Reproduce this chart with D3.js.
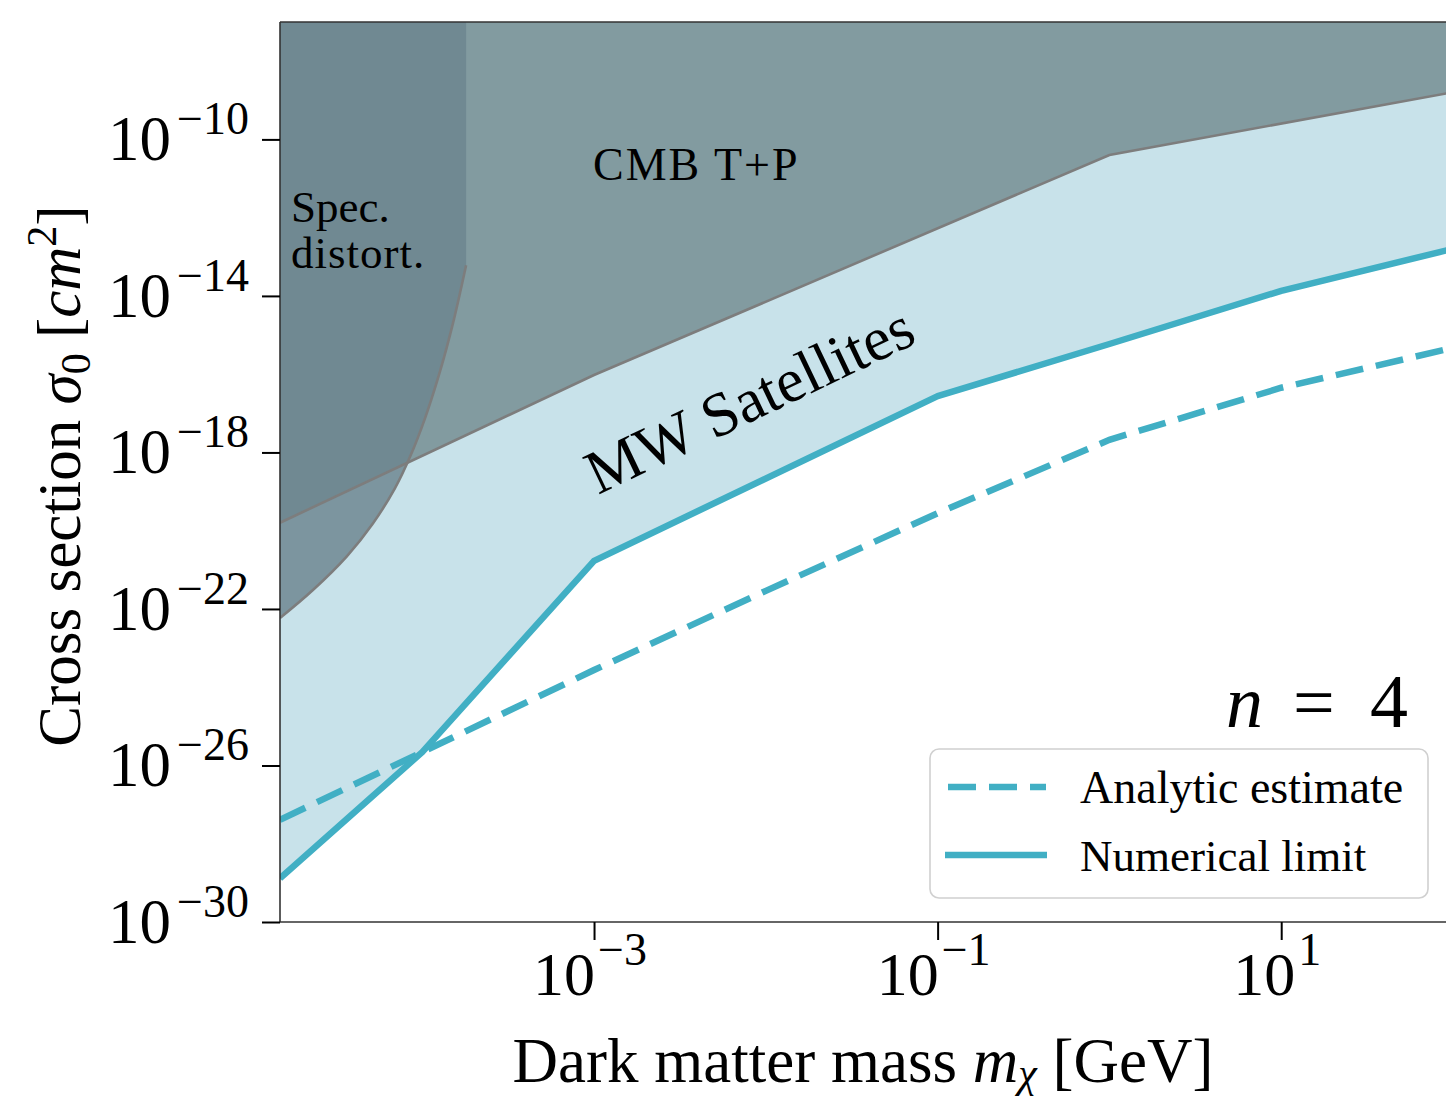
<!DOCTYPE html>
<html><head><meta charset="utf-8">
<script src="https://cdn.jsdelivr.net/npm/d3@7"></script>
<style>
body{margin:0;background:#fff}
svg{display:block}
text{font-family:"Liberation Serif","Times New Roman",serif;fill:#000}
</style>
</head><body>
<svg id="chart" width="1446" height="1096"></svg>
<script>
// ---- data (mass in GeV, cross section in cm^2) ----
const numericalMass  = [1.486e-5, 1e-4, 1e-3, 1e-1, 1, 10, 100];
const numericalSigma = [1.3e-29, 2.2e-26, 1.7e-21, 2.75e-17, 5.9e-16, 1.35e-14, 1.6e-13];

const analyticMass  = [1.486e-5, 1e-4, 1e-3, 1e-2, 1e-1, 1, 10, 100];
const analyticSigma = [4.1e-28, 2.2e-26, 2.75e-24, 2.9e-22, 2.8e-20, 2.1e-18, 4.5e-17, 4.7e-16];

const cmbMass  = [1.486e-5, 1e-3, 1, 100];
const cmbSigma = [1.6e-20, 9.5e-17, 4.0e-11, 1.6e-9];

const specMass  = [1.486e-5, 2.31e-5, 3.65e-5, 5.16e-5, 6.93e-5, 8.49e-5, 1.04e-4, 1.27e-4, 1.51e-4, 1.80e-4];
const specSigma = [5.87e-23, 3.05e-22, 2.25e-21, 1.53e-20, 1.21e-19, 7.74e-19, 7.67e-18, 1.19e-16, 2.01e-15, 6.1e-14];

const xTicks = [1e-3, 1e-1, 1e1];
const xTickExp = ["\u22123", "\u22121", "1"];
const yTicks = [1e-10, 1e-14, 1e-18, 1e-22, 1e-26, 1e-30];
const yTickExp = ["\u221210", "\u221214", "\u221218", "\u221222", "\u221226", "\u221230"];

const legendLabels = ["Analytic estimate", "Numerical limit"];

// ---- layout ----
const L = 280, R = 1453, T = 22, B = 922;
const xMin = 1.486e-5, xMax = 100, yMin = 1e-30, yMax = 1e-7;
const x = d3.scaleLog().domain([xMin, xMax]).range([L, R]);
const y = d3.scaleLog().domain([yMin, yMax]).range([B, T]);

const lineCol = "#41afc4";
const svg = d3.select("#chart");

svg.append("defs").append("clipPath").attr("id", "plotclip")
  .append("rect").attr("x", L).attr("y", T).attr("width", R - L).attr("height", B - T);

const plot = svg.append("g").attr("clip-path", "url(#plotclip)");

const zip = (a, b) => a.map((v, i) => [v, b[i]]);
const num = zip(numericalMass, numericalSigma);
const ana = zip(analyticMass, analyticSigma);
const cmb = zip(cmbMass, cmbSigma);
const spec = zip(specMass, specSigma);

// light blue MW satellites region
plot.append("path")
  .attr("d", d3.area().x(d => x(d[0])).y0(y(yMax)).y1(d => y(d[1]))(num))
  .attr("fill", "#c8e2ea");

// CMB region
plot.append("path")
  .attr("d", d3.area().x(d => x(d[0])).y0(y(yMax)).y1(d => y(d[1]))(cmb))
  .attr("fill", "#829ba0");

// spectral distortion region
const smooth = d3.curveCatmullRom.alpha(0.5);
const specArea = d3.area().x(d => x(d[0])).y0(y(yMax)).y1(d => y(d[1])).curve(smooth);
plot.append("path")
  .attr("d", specArea(spec))
  .attr("fill", "rgb(108,133,143)").attr("fill-opacity", 0.83);

// outlines
plot.append("path")
  .attr("d", d3.line().x(d => x(d[0])).y(d => y(d[1]))(cmb))
  .attr("fill", "none").attr("stroke", "#7d7d7d").attr("stroke-width", 2.6);
plot.append("path")
  .attr("d", d3.line().x(d => x(d[0])).y(d => y(d[1])).curve(smooth)(spec))
  .attr("fill", "none").attr("stroke", "#7d7d7d").attr("stroke-width", 2.6);

// limit lines
const ln = d3.line().x(d => x(d[0])).y(d => y(d[1]));
plot.append("path").attr("d", ln(ana))
  .attr("fill", "none").attr("stroke", lineCol).attr("stroke-width", 6.5)
  .attr("stroke-dasharray", "28,13");
plot.append("path").attr("d", ln(num))
  .attr("fill", "none").attr("stroke", lineCol).attr("stroke-width", 6.5)
  .attr("stroke-linejoin", "round");

// region labels
svg.append("text").attr("x", 291).attr("y", 222).attr("font-size", 45).text("Spec.");
svg.append("text").attr("x", 291).attr("y", 268).attr("font-size", 45).attr("letter-spacing", 1).text("distort.");
svg.append("text").attr("x", 593).attr("y", 180).attr("font-size", 46).attr("letter-spacing", 2).text("CMB T+P");
svg.append("text").attr("transform", "translate(598,495) rotate(-25.5)")
  .attr("font-size", 62).text("MW Satellites");

// n = 4
svg.append("text").attr("x", 1226).attr("y", 727).attr("font-size", 74).attr("font-style", "italic").text("n");
svg.append("text").attr("x", 1293).attr("y", 727).attr("font-size", 74).text("=");
svg.append("text").attr("x", 1370).attr("y", 727).attr("font-size", 76).text("4");

// legend
const lg = svg.append("g");
lg.append("rect").attr("x", 930).attr("y", 749).attr("width", 498).attr("height", 149).attr("rx", 9)
  .attr("fill", "#fff").attr("fill-opacity", 0.8).attr("stroke", "#d0d0d0").attr("stroke-width", 1.6);
lg.append("line").attr("x1", 948).attr("x2", 1046).attr("y1", 787).attr("y2", 787)
  .attr("stroke", lineCol).attr("stroke-width", 6.5).attr("stroke-dasharray", "28,13");
lg.append("line").attr("x1", 945).attr("x2", 1047).attr("y1", 855).attr("y2", 855)
  .attr("stroke", lineCol).attr("stroke-width", 6.5);
lg.append("text").attr("x", 1080).attr("y", 803).attr("font-size", 46).text(legendLabels[0]);
lg.append("text").attr("x", 1080).attr("y", 871).attr("font-size", 45).text(legendLabels[1]);

// axes
const spineCol = "#333";
const xAxis = d3.axisBottom(x).tickValues(xTicks).tickSize(18).tickFormat(() => "");
const yAxis = d3.axisLeft(y).tickValues(yTicks).tickSize(18).tickFormat(() => "");
const gx = svg.append("g").attr("transform", `translate(0,${B})`).call(xAxis);
const gy = svg.append("g").attr("transform", `translate(${L},0)`).call(yAxis);
[gx, gy].forEach(g => {
  g.select(".domain").attr("stroke", spineCol).attr("stroke-width", 1.6);
  g.selectAll(".tick line").attr("stroke", "#000").attr("stroke-width", 2);
});
gy.select(".domain").attr("d", `M0,${B}V${T}`);
gx.select(".domain").attr("d", `M${L},0H${R}`);
// top spine
svg.append("line").attr("x1", L).attr("x2", R).attr("y1", T).attr("y2", T)
  .attr("stroke", spineCol).attr("stroke-width", 1.6);

// tick labels
xTicks.forEach((v, i) => {
  const t = svg.append("text").attr("x", x(v) - 4).attr("y", 995).attr("text-anchor", "middle").attr("font-size", 62);
  t.append("tspan").text("10");
  t.append("tspan").attr("dy", -30).attr("dx", 3).attr("font-size", 46).text(xTickExp[i]);
});
yTicks.forEach((v, i) => {
  const t = svg.append("text").attr("x", 249).attr("y", y(v) + 21).attr("text-anchor", "end").attr("font-size", 63);
  t.append("tspan").text("10");
  t.append("tspan").attr("dy", -26).attr("dx", 6).attr("font-size", 46).text(yTickExp[i]);
});

// axis titles
const xl = svg.append("text").attr("x", 863).attr("y", 1082).attr("text-anchor", "middle").attr("font-size", 63);
xl.append("tspan").text("Dark matter mass ");
xl.append("tspan").attr("font-style", "italic").text("m");
xl.append("tspan").attr("font-style", "italic").attr("font-size", 42).attr("dy", 5).text("\u03c7");
xl.append("tspan").attr("dy", -5).text(" [GeV]");

const yl = svg.append("text").attr("transform", `translate(80,${(T + B) / 2 + 4}) rotate(-90)`)
  .attr("text-anchor", "middle").attr("font-size", 61);
yl.append("tspan").text("Cross section ");
yl.append("tspan").attr("font-style", "italic").text("\u03c3");
yl.append("tspan").attr("font-size", 42).attr("dy", 10).text("0");
yl.append("tspan").attr("dy", -10).text(" [");
yl.append("tspan").attr("font-style", "italic").text("cm");
yl.append("tspan").attr("font-size", 42).attr("dy", -24).text("2");
yl.append("tspan").attr("dy", 24).text("]");
</script>
</body></html>
